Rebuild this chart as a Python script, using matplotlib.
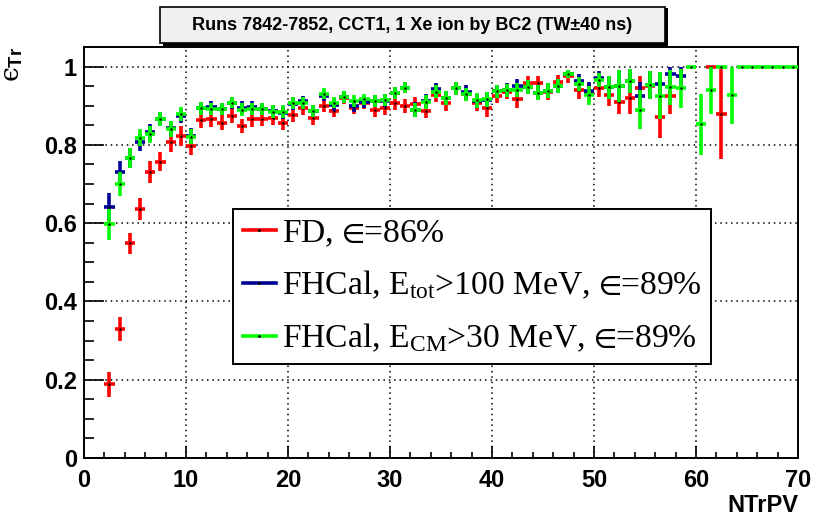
import numpy as np
import matplotlib
matplotlib.use("Agg")
import matplotlib.pyplot as plt
from matplotlib.lines import Line2D
from matplotlib.patches import Rectangle
from matplotlib.ticker import MultipleLocator

plt.rcParams['mathtext.fontset'] = 'custom'
plt.rcParams['mathtext.rm'] = 'Liberation Serif'
plt.rcParams['mathtext.it'] = 'Liberation Serif:italic'
plt.rcParams['mathtext.bf'] = 'Liberation Sans:bold'
plt.rcParams['mathtext.fallback'] = 'stix'

nan = np.nan

# bin centres of NTrPV histogram (unit bins)
ntrpv = np.arange(2.5, 70.0, 1.0)

# FD efficiency per bin
eff_fd = [0.188, 0.329, 0.548, 0.635, 0.730, 0.757, 0.806, 0.822, 0.797, 0.863,
          0.865, 0.857, 0.874, 0.848, 0.865, 0.866, 0.868, 0.857, 0.876, 0.893,
          0.868, 0.900, 0.887, 0.920, 0.895, 0.908, 0.889, 0.895, 0.906, 0.900,
          0.905, 0.887, 0.927, 0.906, 0.944, 0.930, 0.906, 0.893, 0.925, 0.935,
          0.916, 0.957, 0.957, 0.935, 0.960, 0.975, 0.940, 0.935, 0.945, 0.927,
          0.910, 0.919, 0.945, 0.950, 0.870, 0.925, nan, nan, nan, 1.000,
          0.879, nan, nan, nan, nan, nan, nan, nan]
err_fd = [0.032, 0.030, 0.028, 0.028, 0.028, 0.025, 0.025, 0.025, 0.022, 0.020,
          0.020, 0.020, 0.019, 0.019, 0.019, 0.018, 0.018, 0.018, 0.018, 0.017,
          0.018, 0.017, 0.017, 0.016, 0.017, 0.017, 0.018, 0.018, 0.018, 0.018,
          0.018, 0.019, 0.017, 0.019, 0.017, 0.018, 0.020, 0.021, 0.019, 0.019,
          0.021, 0.018, 0.018, 0.021, 0.019, 0.016, 0.022, 0.024, 0.024, 0.028,
          0.030, 0.040, 0.032, 0.032, 0.053, 0.045, nan, nan, nan, 0.000,
          0.115, nan, nan, nan, nan, nan, nan, nan]

# FHCal, Etot > 100 MeV
eff_etot = [0.642, 0.730, 0.767, 0.806, 0.832, 0.866, 0.842, 0.874, 0.823, 0.894,
            0.897, 0.892, 0.906, 0.895, 0.896, 0.892, 0.886, 0.882, 0.905, 0.911,
            0.887, 0.925, 0.902, 0.923, 0.900, 0.910, 0.912, 0.913, 0.932, 0.946,
            0.890, 0.911, 0.942, 0.920, 0.944, 0.935, 0.912, 0.915, 0.937, 0.940,
            0.950, 0.948, 0.933, 0.938, 0.951, 0.981, 0.962, 0.938, 0.972, 0.947,
            0.950, 0.963, 0.925, 0.953, 0.955, 0.980, 0.975, nan, nan, nan,
            nan, nan, nan, nan, nan, nan, nan, nan]
err_etot = [0.036, 0.030, 0.025, 0.022, 0.022, 0.018, 0.020, 0.018, 0.020, 0.016,
            0.016, 0.016, 0.015, 0.016, 0.016, 0.016, 0.016, 0.016, 0.015, 0.015,
            0.016, 0.014, 0.015, 0.015, 0.015, 0.015, 0.016, 0.016, 0.015, 0.014,
            0.019, 0.018, 0.016, 0.018, 0.016, 0.017, 0.019, 0.019, 0.017, 0.017,
            0.018, 0.017, 0.019, 0.019, 0.018, 0.011, 0.018, 0.022, 0.016, 0.030,
            0.040, 0.030, 0.035, 0.035, 0.030, 0.020, 0.025, nan, nan, nan,
            nan, nan, nan, nan, nan, nan, nan, nan]

# FHCal, ECM > 30 MeV
eff_ecm = [0.597, 0.700, 0.767, 0.818, 0.827, 0.866, 0.840, 0.879, 0.821, 0.893,
           0.892, 0.892, 0.908, 0.890, 0.892, 0.892, 0.885, 0.885, 0.906, 0.906,
           0.887, 0.931, 0.908, 0.923, 0.912, 0.916, 0.912, 0.914, 0.933, 0.946,
           0.889, 0.910, 0.936, 0.919, 0.944, 0.929, 0.914, 0.916, 0.937, 0.939,
           0.939, 0.948, 0.933, 0.938, 0.951, 0.981, 0.955, 0.927, 0.965, 0.947,
           0.950, 0.963, 0.890, 0.953, 0.925, 0.947, 0.944, 1.000, 0.853, 0.940,
           1.000, 0.927, 1.000, 1.000, 1.000, 1.000, 1.000, 1.000]
err_ecm = [0.040, 0.030, 0.025, 0.022, 0.022, 0.018, 0.020, 0.018, 0.020, 0.016,
           0.016, 0.016, 0.015, 0.016, 0.016, 0.016, 0.016, 0.016, 0.015, 0.015,
           0.016, 0.014, 0.015, 0.015, 0.015, 0.015, 0.016, 0.016, 0.015, 0.014,
           0.019, 0.018, 0.016, 0.018, 0.016, 0.017, 0.019, 0.019, 0.017, 0.017,
           0.018, 0.017, 0.019, 0.019, 0.018, 0.011, 0.018, 0.024, 0.018, 0.030,
           0.040, 0.030, 0.050, 0.035, 0.060, 0.045, 0.050, 0.000, 0.078, 0.060,
           0.000, 0.073, 0.000, 0.000, 0.000, 0.000, 0.000, 0.000]

# \in without the relation spacing mathtext adds around it
EPS = '$\\hspace{-0.2}\\in\\hspace{-0.26}$'
series = [
    (eff_fd, err_fd, '#ff0000', 'FD, ' + EPS + '=86%'),
    (eff_etot, err_etot, '#000099', 'FHCal, E$_{\\mathrm{tot}}$>100 MeV, ' + EPS + '=89%'),
    (eff_ecm, err_ecm, '#00ff00', 'FHCal, E$_{\\mathrm{CM}}$>30 MeV, ' + EPS + '=89%'),
]

fig = plt.figure(figsize=(8.13, 5.22), dpi=100)
ax = fig.add_axes([0.1033, 0.1226, 0.8782, 0.7874])

handles = []
for i, (eff, err, col, lab) in enumerate(series):
    eff = np.array(eff)
    err = np.array(err)
    ax.errorbar(ntrpv, eff, xerr=0.5, yerr=err, fmt='none', ecolor=col,
                elinewidth=2.6, capsize=0, zorder=3 + i)
    ax.plot(ntrpv, eff, ls='none', marker='.', ms=1.5, color='k', zorder=3 + i)
    handles.append(Line2D([0], [0], color=col, lw=2.6, marker='.', ms=2,
                          mfc='k', mec='k', label=lab))

ax.set_xlim(0, 70)
ax.set_ylim(0, 1.05)
ax.xaxis.set_major_locator(MultipleLocator(10))
ax.xaxis.set_minor_locator(MultipleLocator(2))
ax.yaxis.set_major_locator(MultipleLocator(0.2))
ax.yaxis.set_minor_locator(MultipleLocator(0.05))
ax.grid(True, which='major', color='k', ls=(0, (1, 2.5)), lw=1.1)
ax.set_axisbelow(True)

ax.tick_params(axis='x', which='major', direction='in', length=9, width=1.2, pad=8)
ax.tick_params(axis='x', which='minor', direction='in', length=4.5, width=1.2)
ax.tick_params(axis='y', which='major', direction='in', length=14.5, width=1.2, pad=5)
ax.tick_params(axis='y', which='minor', direction='in', length=7, width=1.2)
ax.set_yticks([0, 0.2, 0.4, 0.6, 0.8, 1.0])
ax.set_yticklabels(['0', '0.2', '0.4', '0.6', '0.8', '1'])
for lbl in ax.get_xticklabels() + ax.get_yticklabels():
    lbl.set_fontfamily('Liberation Sans')
    lbl.set_fontweight('bold')
    lbl.set_fontsize(17)
for sp in ax.spines.values():
    sp.set_linewidth(1.4)

ax.set_xlabel('NTrPV', fontfamily='Liberation Sans', fontweight='bold',
              fontsize=17, loc='right', labelpad=1)
ax.set_ylabel('\u03f5$_{\\mathbf{Tr}}$', fontsize=19, loc='top',
              fontfamily=['DejaVu Serif'])
ax.yaxis.set_label_coords(-0.082, 1.0)

leg = ax.legend(handles=handles, loc='upper left', bbox_to_anchor=(0.209, 0.606),
                prop={'family': ['Liberation Serif', 'DejaVu Serif'], 'size': 24.2},
                frameon=True, fancybox=False, framealpha=1, edgecolor='k',
                borderpad=0.28, labelspacing=0.6, handlelength=1.0,
                handletextpad=0.18, borderaxespad=0)
leg.get_frame().set_linewidth(1.4)
leg.set_zorder(10)

# title pave with drop shadow
fig.add_artist(Rectangle((163 / 813, 1 - 46 / 522), 505 / 813, 38 / 522,
                         transform=fig.transFigure, facecolor='k', edgecolor='none'))
fig.add_artist(Rectangle((160 / 813, 1 - 43 / 522), 505 / 813, 36 / 522,
                         transform=fig.transFigure, facecolor='#f0f0f0',
                         edgecolor='k', lw=1.2))
fig.text(412 / 813, 1 - 25 / 522, 'Runs 7842-7852, CCT1, 1 Xe ion by BC2 (TW\u00b140 ns)',
         ha='center', va='center', fontfamily='Liberation Sans', fontweight='bold',
         fontsize=13)

fig.savefig('out.png', dpi=100)
